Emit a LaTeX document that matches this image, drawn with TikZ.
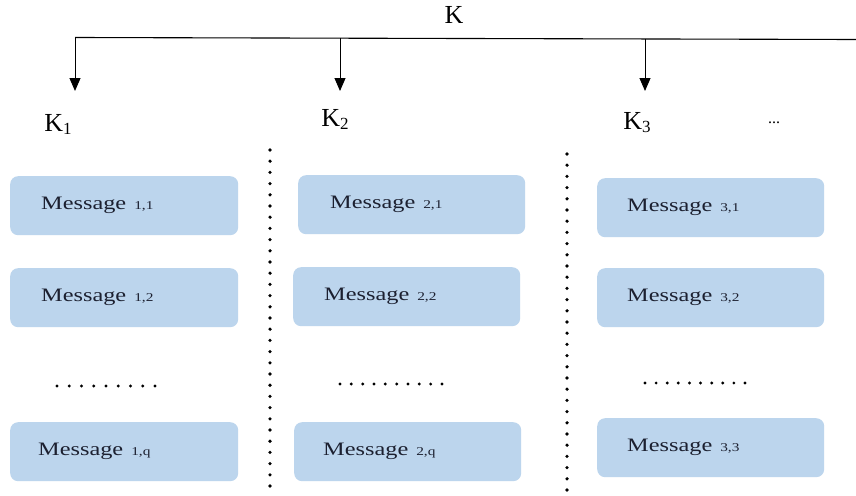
\documentclass[tikz,border=0pt]{standalone}
\usepackage{fontspec}
\setmainfont{Liberation Serif}
\newfontfamily\msgfont[FakeStretch=1.28]{Liberation Serif}
\usetikzlibrary{arrows.meta}
\definecolor{boxblue}{RGB}{188,213,237}
\definecolor{txt}{RGB}{28,32,48}
\begin{document}
\begin{tikzpicture}[x=1pt,y=-1pt,
  msg/.style={fill=boxblue,rounded corners=8pt,minimum height=59pt,inner xsep=0pt,
     text width=227pt,align=left,text=txt,anchor=north west},
  klab/.style={font=\fontsize{26}{28}\selectfont},
  sep/.style={line width=3.6pt,line cap=round,dash pattern=on 0pt off 11.2pt},
  hdots/.style={line width=3.2pt,line cap=round},
  arr/.style={-{Triangle[length=13pt,width=11pt]},line width=1pt}]
\useasboundingbox (0,0) rectangle (856,495);
\fill[white] (0,0) rectangle (856,495);
% top
\node[font=\fontsize{26}{28}\selectfont] (K) at (454,15) {K};
\coordinate (L) at (75,37.5);
\coordinate (R) at (856,39.5);
\coordinate (b1) at (75,37.5);
\coordinate (b2) at (340,38.2);
\coordinate (b3) at (645,39);
\coordinate (e1) at (75,91);
\coordinate (e2) at (340,91);
\coordinate (e3) at (645,91);
\draw[line width=1.1pt] (L) -- (R);
\draw[arr] (b1) -- (e1);
\draw[arr] (b2) -- (e2);
\draw[arr] (b3) -- (e3);
\newcommand\ksub[1]{K\raisebox{-3pt}{\fontsize{17}{17}\selectfont #1}}
\node[klab] (K1) at (58,124) {\ksub{1}};
\node[klab] (K2) at (335,119) {\ksub{2}};
\node[klab] (K3) at (637,123) {\ksub{3}};
\node[font=\fontsize{16}{16}\selectfont] (dd) at (774,123) {...};
% separators
\coordinate (s1a) at (270,150);
\coordinate (s1b) at (270,490);
\coordinate (s2a) at (567,154);
\coordinate (s2b) at (567,490);
\draw[sep] (s1a) -- (s1b);
\draw[sep] (s2a) -- (s2b);
% boxes
\newcommand\msgtxt[2]{\hspace*{#1pt}{\msgfont\fontsize{19}{22}\selectfont Message}\hspace{8pt}{\msgfont\fontsize{12}{12}\selectfont #2}}
\node[msg,text width=228pt] (m11) at (10,176) {\msgtxt{31}{1,1}};
\node[msg,text width=228pt] (m12) at (10,268) {\msgtxt{31}{1,2}};
\node[msg,text width=228pt] (m1q) at (10,422) {\msgtxt{28}{1,q}};
\node[msg] (m21) at (298,175) {\msgtxt{32}{2,1}};
\node[msg] (m22) at (293,267) {\msgtxt{31}{2,2}};
\node[msg] (m2q) at (294,422) {\msgtxt{29}{2,q}};
\node[msg] (m31) at (597,178) {\msgtxt{30}{3,1}};
\node[msg] (m32) at (597,268) {\msgtxt{30}{3,2}};
\node[msg] (m33) at (597,418) {\msgtxt{30}{3,3}};
% horizontal dots
\coordinate (h1a) at (57,386); \coordinate (h1b) at (155,386);
\coordinate (h2a) at (340,384); \coordinate (h2b) at (442,384);
\coordinate (h3a) at (645,383); \coordinate (h3b) at (745,383);
\draw[hdots,dash pattern=on 0pt off 12.25pt] (h1a) -- (h1b);
\draw[hdots,dash pattern=on 0pt off 11.33pt] (h2a) -- (h2b);
\draw[hdots,dash pattern=on 0pt off 11.11pt] (h3a) -- (h3b);
\end{tikzpicture}
\end{document}
